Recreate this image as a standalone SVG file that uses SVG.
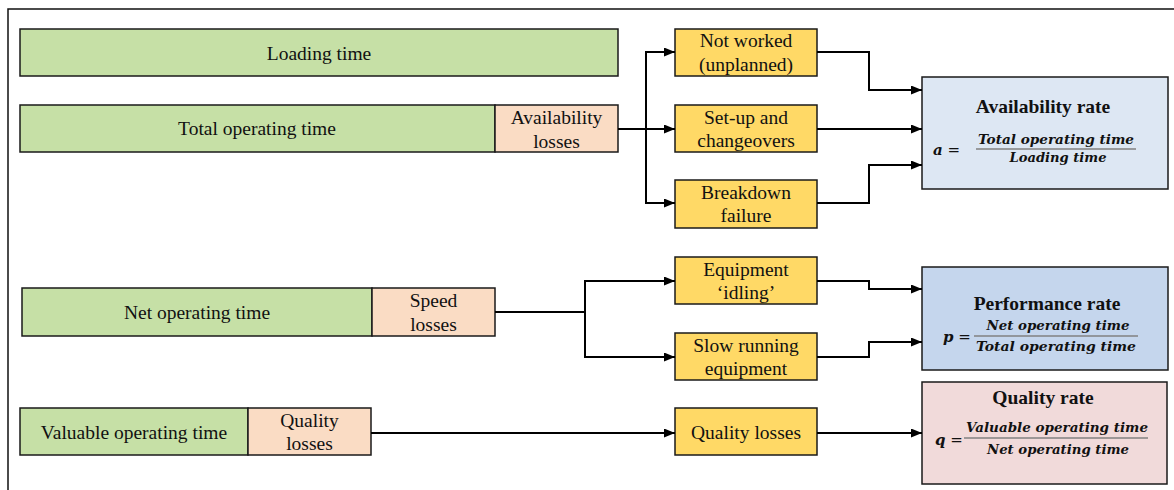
<svg xmlns="http://www.w3.org/2000/svg" width="1174" height="490" viewBox="0 0 1174 490">
<style>
.t{font-family:"Liberation Serif","Times New Roman",serif;font-size:19.5px;fill:#111;text-anchor:middle}
.b{stroke:#1a1a1a;stroke-width:1.5}
.g{fill:#c6e0a6}
.p{fill:#fadcc4}
.y{fill:#ffd966}
.ti{font-family:"Liberation Serif","Times New Roman",serif;font-size:19.5px;font-weight:bold;fill:#111;text-anchor:middle}
.f{font-family:"DejaVu Serif",serif;font-size:13.5px;font-weight:bold;font-style:italic;fill:#111;text-anchor:middle}
.v{font-family:"DejaVu Serif",serif;font-size:15px;fill:#111}
.fl{stroke:#808080;stroke-width:1.4}
.c{fill:none;stroke:#000;stroke-width:2}
</style>
<defs>
<marker id="ah" markerUnits="userSpaceOnUse" markerWidth="11" markerHeight="9" refX="11" refY="4.5" orient="auto">
<path d="M0,0 L11,4.5 L0,9 z" fill="#000"/>
</marker>
</defs>
<rect width="1174" height="490" fill="#fff"/>
<path d="M8,490 V9 H1174" fill="none" stroke="#111" stroke-width="1.5"/>

<g id="loading-time"><rect class="b g" x="20" y="29" width="598" height="47"/><text class="t" x="319" y="59.5">Loading time</text></g>
<g id="total-operating-time"><rect class="b g" x="20" y="105" width="475" height="47"/><text class="t" x="257" y="135">Total operating time</text></g>
<g id="availability-losses"><rect class="b p" x="495" y="105" width="123" height="47"/><text class="t" x="556.5" y="123.5">Availability</text><text class="t" x="556.5" y="147.5">losses</text></g>
<g id="net-operating-time"><rect class="b g" x="22" y="288" width="350" height="48"/><text class="t" x="197" y="319">Net operating time</text></g>
<g id="speed-losses"><rect class="b p" x="372" y="288" width="123" height="48"/><text class="t" x="433.5" y="306.5">Speed</text><text class="t" x="433.5" y="330.5">losses</text></g>
<g id="valuable-operating-time"><rect class="b g" x="20" y="408" width="228" height="47"/><text class="t" x="134" y="439">Valuable operating time</text></g>
<g id="quality-losses-bar"><rect class="b p" x="248" y="408" width="123" height="47"/><text class="t" x="309.5" y="426.5">Quality</text><text class="t" x="309.5" y="450">losses</text></g>

<g id="not-worked"><rect class="b y" x="675" y="29" width="142" height="47"/><text class="t" x="746" y="47">Not worked</text><text class="t" x="746" y="70.5">(unplanned)</text></g>
<g id="setup"><rect class="b y" x="675" y="105" width="142" height="47"/><text class="t" x="746" y="123.5">Set-up and</text><text class="t" x="746" y="147">changeovers</text></g>
<g id="breakdown"><rect class="b y" x="675" y="180" width="142" height="48"/><text class="t" x="746" y="198.5">Breakdown</text><text class="t" x="746" y="222">failure</text></g>
<g id="idling"><rect class="b y" x="675" y="257" width="142" height="47"/><text class="t" x="746" y="275.5">Equipment</text><text class="t" x="746" y="299">‘idling’</text></g>
<g id="slow-running"><rect class="b y" x="675" y="333" width="142" height="47"/><text class="t" x="746" y="351.5">Slow running</text><text class="t" x="746" y="375">equipment</text></g>
<g id="quality-losses"><rect class="b y" x="675" y="408" width="142" height="47"/><text class="t" x="746" y="439">Quality losses</text></g>

<g id="availability-rate"><rect class="b" fill="#dde7f3" x="922" y="77" width="246" height="112"/>
<text class="ti" x="1043" y="112.5">Availability rate</text>
<text class="v" x="933" y="155"><tspan font-weight="bold" font-style="italic">a</tspan> =</text>
<line class="fl" x1="976" y1="149" x2="1136" y2="149"/>
<text class="f" x="1056" y="144" textLength="156" lengthAdjust="spacingAndGlyphs">Total operating time</text>
<text class="f" x="1058" y="162" textLength="97" lengthAdjust="spacingAndGlyphs">Loading time</text>
</g>
<g id="performance-rate"><rect class="b" fill="#c5d6ed" x="922" y="267" width="246" height="103"/>
<text class="ti" x="1047" y="310">Performance rate</text>
<text class="v" x="943" y="342"><tspan font-weight="bold" font-style="italic">p</tspan> =</text>
<line class="fl" x1="974" y1="336" x2="1138" y2="336"/>
<text class="f" x="1058" y="330" textLength="143" lengthAdjust="spacingAndGlyphs">Net operating time</text>
<text class="f" x="1056" y="351" textLength="160" lengthAdjust="spacingAndGlyphs">Total operating time</text>
</g>
<g id="quality-rate"><rect class="b" fill="#f1dada" x="922" y="382" width="245" height="102"/>
<text class="ti" x="1043" y="403.5">Quality rate</text>
<text class="v" x="935" y="445"><tspan font-weight="bold" font-style="italic">q</tspan> =</text>
<line class="fl" x1="964" y1="438" x2="1148" y2="438"/>
<text class="f" x="1057" y="432" textLength="182" lengthAdjust="spacingAndGlyphs">Valuable operating time</text>
<text class="f" x="1058" y="453.5" textLength="142" lengthAdjust="spacingAndGlyphs">Net operating time</text>
</g>

<g id="connectors">
<path class="c" d="M618,129 H675" marker-end="url(#ah)"/>
<path class="c" d="M646,129 V52 H675" marker-end="url(#ah)"/>
<path class="c" d="M646,129 V203 H675" marker-end="url(#ah)"/>
<path class="c" d="M817,52 H869 V90 H922" marker-end="url(#ah)"/>
<path class="c" d="M817,129 H922" marker-end="url(#ah)"/>
<path class="c" d="M817,203 H869 V165 H922" marker-end="url(#ah)"/>
<path class="c" d="M495,312 H585 V281 H675" marker-end="url(#ah)"/>
<path class="c" d="M585,312 V357 H675" marker-end="url(#ah)"/>
<path class="c" d="M817,281 H869 V289 H922" marker-end="url(#ah)"/>
<path class="c" d="M817,357 H869 V342 H922" marker-end="url(#ah)"/>
<path class="c" d="M371,433 H675" marker-end="url(#ah)"/>
<path class="c" d="M817,433 H922" marker-end="url(#ah)"/>
</g>
</svg>
